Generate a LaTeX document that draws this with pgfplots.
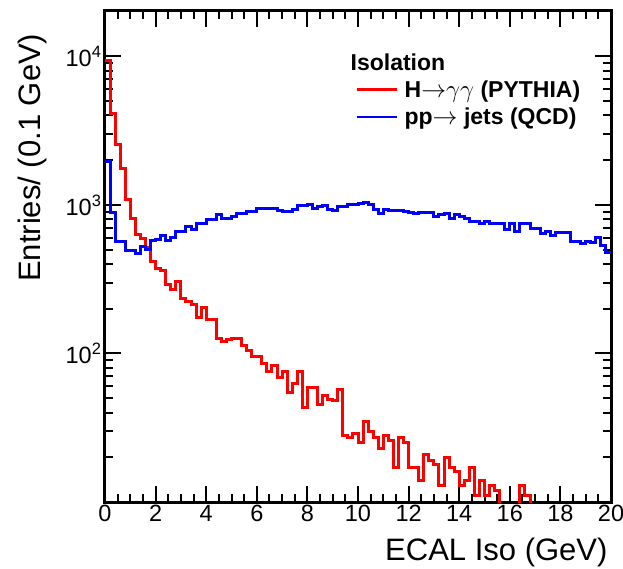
\documentclass[border=0pt]{standalone}
\usepackage{fontspec}
\setmainfont{Liberation Sans}
\usepackage{pgfplots}
\pgfplotsset{compat=1.18}
\usepackage{pgfplotstable}

\pgfplotstableread{
x y
0.0 9350
0.2 4150
0.4 2540
0.6 1770
0.8 1090
1.0 813
1.2 637
1.4 590
1.6 513
1.8 419
2.0 373
2.2 364
2.4 289
2.6 270
2.8 304
3.0 235
3.2 225
3.4 212
3.6 175
3.8 204
4.0 170
4.2 170
4.4 126
4.6 120
4.8 125
5.0 126
5.2 126
5.4 114
5.6 105
5.8 96
6.0 96
6.2 86
6.4 76
6.6 83
6.8 69
7.0 76
7.2 55
7.4 63
7.6 76
7.8 43
8.0 59
8.2 59
8.4 45
8.6 52
8.8 49
9.0 48
9.2 57
9.4 28
9.6 27
9.8 29
10.0 25
10.2 35
10.4 30
10.6 27
10.8 23
11.0 28
11.2 26
11.4 17
11.6 27
11.8 25
12.0 17
12.2 17
12.4 14
12.6 21
12.8 19
13.0 18
13.2 13
13.4 20
13.6 17
13.8 16
14.0 13
14.2 14
14.4 17
14.6 11
14.8 14
15.0 11
15.2 13
15.4 12
15.6 7
15.8 6
16.0 8
16.2 6
16.4 13
16.6 11
16.8 5
17.0 7
17.2 4
17.4 5
17.6 6
17.8 3
18.0 4
18.2 5
18.4 3
18.6 2
18.8 4
19.0 3
19.2 2
19.4 3
19.6 2
19.8 2
20.0 2
}\redtable

\pgfplotstableread{
x y
0.0 1950
0.2 883
0.4 566
0.6 566
0.8 497
1.0 497
1.2 472
1.4 521
1.6 502
1.8 574
2.0 587
2.2 618
2.4 576
2.6 599
2.8 661
3.0 661
3.2 714
3.4 678
3.6 753
3.8 753
4.0 792
4.2 792
4.4 856
4.6 813
4.8 813
5.0 834
5.2 879
5.4 879
5.6 901
5.8 901
6.0 950
6.2 940
6.4 950
6.6 940
6.8 915
7.0 901
7.2 901
7.4 935
7.6 985
7.8 985
8.0 1000
8.2 950
8.4 970
8.6 985
8.8 935
9.0 915
9.2 974
9.4 974
9.6 1000
9.8 1000
10.0 1027
10.2 1036
10.4 1000
10.6 935
10.8 879
11.0 925
11.2 918
11.4 911
11.6 911
11.8 897
12.0 887
12.2 870
12.4 887
12.6 887
12.8 883
13.0 837
13.2 856
13.4 870
13.6 804
13.8 856
14.0 834
14.2 813
14.4 772
14.6 772
14.8 753
15.0 772
15.2 745
15.4 745
15.6 745
15.8 678
16.0 753
16.2 661
16.4 745
16.6 745
16.8 697
17.0 697
17.2 645
17.4 661
17.6 618
17.8 651
18.0 651
18.2 651
18.4 566
18.6 566
18.8 552
19.0 566
19.2 557
19.4 606
19.6 537
19.8 475
20.0 475
}\bluetable

\begin{document}
\begin{tikzpicture}
\useasboundingbox (-105pt,-66pt) rectangle (518pt,502pt);
\begin{axis}[
  scale only axis, width=506pt, height=491pt,
  xmin=0, xmax=20, ymode=log, ymin=10, ymax=20200,
  axis line style={line width=3pt},
  xtick={0,2,...,20}, minor x tick num=3,
  ytick={100,1000,10000},
  yticklabels={10\textsuperscript{2},10\textsuperscript{3},10\textsuperscript{4}},
  minor ytick={20,30,40,50,60,70,80,90,200,300,400,500,600,700,800,900,2000,3000,4000,5000,6000,7000,8000,9000},
  tick align=inside, tick pos=both,
  major tick length=16pt, minor tick length=8pt,
  tick style={black, line width=2pt},
  ticklabel style={font=\fontsize{23.5}{28}\selectfont},
  /pgf/number format/assume math mode=true,
  label style={font=\fontsize{31}{36}\selectfont},
  xlabel={ECAL Iso (GeV)},
  xlabel style={at={(axis description cs:1,-0.12)}, anchor=base east},
  ylabel={Entries/ (0.1 GeV)},
  ylabel style={at={(axis description cs:-0.128,0.961)}, anchor=base east},
  legend style={draw=none, fill=none, at={(axis description cs:0.49,0.922)}, anchor=north west,
    font=\bfseries\fontsize{23}{27}\selectfont, row sep=5pt,
    /tikz/every odd column/.append style={column sep=4pt}},
  legend cell align=left,
]
\addlegendimage{empty legend}
\addlegendentry{\hspace*{-54pt}Isolation}
\addplot[const plot mark left, red, line width=3pt,
  legend image code/.code={\draw[red, line width=2.5pt] (0pt,0pt) -- (40pt,0pt);}]
  table[x=x,y=y] {\redtable};
\addlegendentry{H{$\rightarrow$}{$\gamma\gamma$} (PYTHIA)}
\addplot[const plot mark left, blue, line width=3pt,
  legend image code/.code={\draw[blue, line width=2.5pt] (0pt,0pt) -- (40pt,0pt);}]
  table[x=x,y=y] {\bluetable};
\addlegendentry{pp{$\rightarrow$} jets (QCD)}
\end{axis}
\end{tikzpicture}
\end{document}
